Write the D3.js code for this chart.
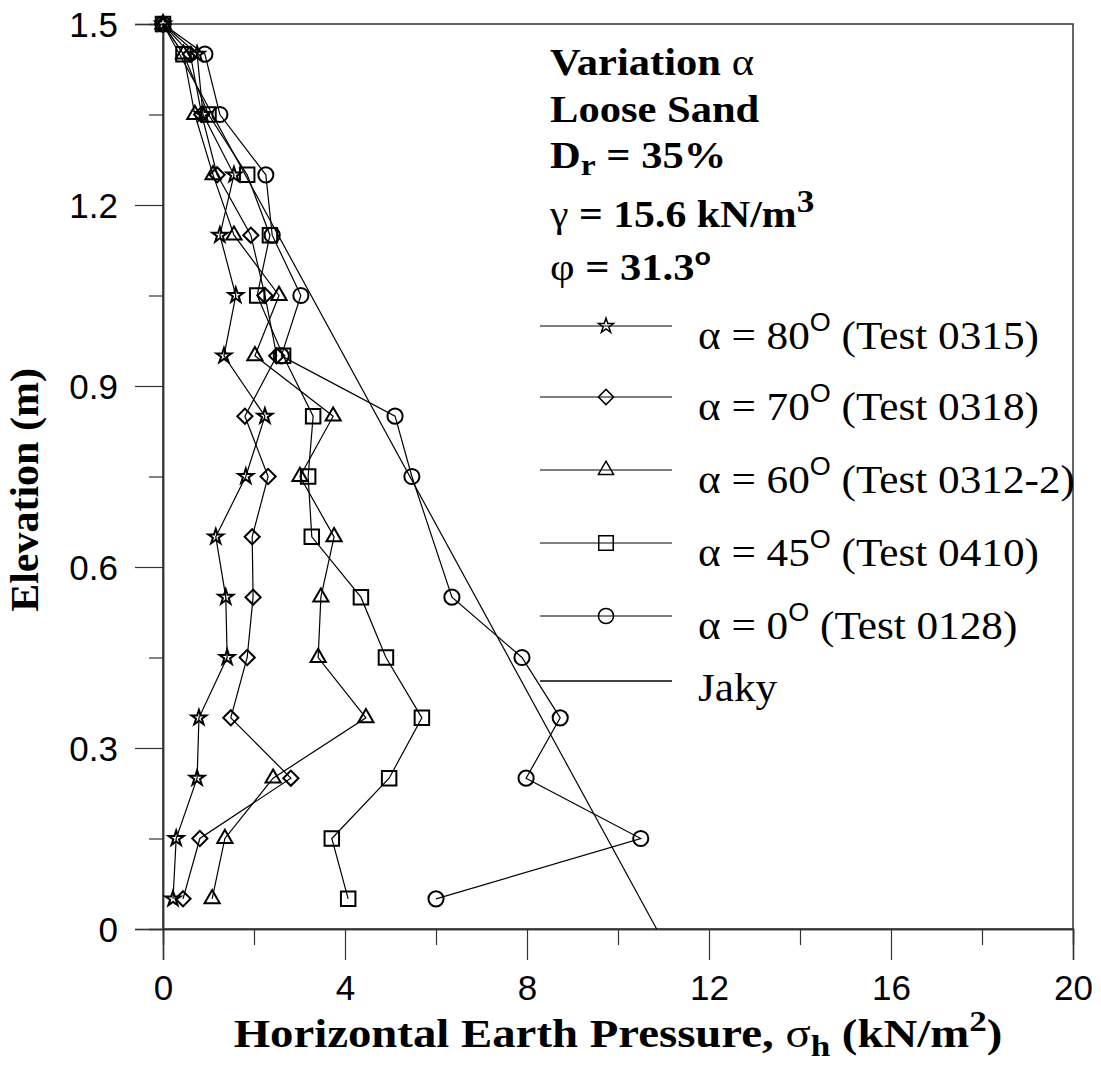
<!DOCTYPE html>
<html>
<head>
<meta charset="utf-8">
<script src="https://cdn.jsdelivr.net/npm/d3@7"></script>
<style>
  body { margin: 0; background: #fff; }
  svg { display: block; }
</style>
</head>
<body>
<div id="chart"></div>
<script>
/* DATA */
var elevations = [1.5, 1.45, 1.35, 1.25, 1.15, 1.05, 0.95, 0.85, 0.75, 0.65, 0.55, 0.45, 0.35, 0.25, 0.15, 0.05];
var alpha80 = [0, 0.75, 0.88, 1.56, 1.25, 1.6, 1.34, 2.24, 1.82, 1.16, 1.38, 1.41, 0.79, 0.75, 0.29, 0.22];
var alpha70 = [0, 0.6, 0.85, 1.19, 1.93, 2.24, 2.5, 1.8, 2.31, 1.96, 1.98, 1.85, 1.49, 2.81, 0.81, 0.44];
var alpha60 = [0, 0.45, 0.7, 1.1, 1.56, 2.55, 2.02, 3.74, 3.01, 3.76, 3.47, 3.41, 4.46, 2.42, 1.36, 1.08];
var alpha45 = [0, 0.45, 1.0, 1.85, 2.35, 2.07, 2.64, 3.3, 3.19, 3.27, 4.35, 4.9, 5.69, 4.97, 3.71, 4.07];
var alpha0  = [0, 0.92, 1.25, 2.26, 2.4, 3.03, 2.6, 5.1, 5.47, null, 6.35, 7.89, 8.73, 7.98, 10.5, 6.0];
var jakyX = [0, 10.85];
var jakyY = [1.5, 0];

var seriesNames = ['80', '70', '60', '45', '0'];
var seriesTests = ['(Test 0315)', '(Test 0318)', '(Test 0312-2)', '(Test 0410)', '(Test 0128)'];
var seriesValues = [alpha80, alpha70, alpha60, alpha45, alpha0];
var seriesMarks = ['star', 'diamond', 'triangle', 'square', 'circle'];

var xTicks = [0, 4, 8, 12, 16, 20];
var xMinor = [2, 6, 10, 14, 18];
var yTicks = [0, 0.3, 0.6, 0.9, 1.2, 1.5];
var yMinor = [0.15, 0.45, 0.75, 1.05, 1.35];

/* LAYOUT */
var width = 1101, height = 1074;
var plotLeft = 163, plotRight = 1073, plotTop = 24, plotBottom = 929;
var serif = '"Liberation Serif", "Times New Roman", serif';
var sans = '"Liberation Sans", Arial, sans-serif';

var svg = d3.select('#chart').append('svg')
  .attr('width', width).attr('height', height);

var x = d3.scaleLinear().domain([0, 20]).range([plotLeft, plotRight]);
var y = d3.scaleLinear().domain([0, 1.5]).range([plotBottom, plotTop]);

/* a text that is a bit wider than the font, like the original */
function wideText(parent, tx, ty, sx) {
  return parent.append('g')
    .attr('transform', 'translate(' + tx + ',' + ty + ') scale(' + sx + ',1)')
    .append('text');
}

/* FRAME */
svg.append('rect')
  .attr('x', plotLeft).attr('y', plotTop)
  .attr('width', plotRight - plotLeft).attr('height', plotBottom - plotTop)
  .attr('fill', 'none').attr('stroke', '#333').attr('stroke-width', 1.5);

/* AXES */
var xAxis = svg.append('g').attr('transform', 'translate(0,' + plotBottom + ')')
  .call(d3.axisBottom(x).tickValues(xTicks).tickSize(31).tickFormat(d3.format('d')));
svg.append('g').attr('transform', 'translate(0,' + plotBottom + ')')
  .call(d3.axisBottom(x).tickValues(xMinor).tickSize(16).tickFormat(''));
var yAxis = svg.append('g').attr('transform', 'translate(' + plotLeft + ',0)')
  .call(d3.axisLeft(y).tickValues(yTicks).tickSize(28).tickFormat(function(d){ return d === 0 ? '0' : d3.format('.1f')(d); }));
svg.append('g').attr('transform', 'translate(' + plotLeft + ',0)')
  .call(d3.axisLeft(y).tickValues(yMinor).tickSize(14).tickFormat(''));

svg.selectAll('.domain').attr('stroke', '#333').attr('stroke-width', 1.5);
svg.selectAll('.tick line').attr('stroke', '#333').attr('stroke-width', 1.2);
xAxis.selectAll('.tick text')
  .attr('font-family', sans).attr('font-size', 35).attr('fill', '#000')
  .attr('y', 46).attr('dy', '0.71em');
yAxis.selectAll('.tick text')
  .attr('font-family', sans).attr('font-size', 35).attr('fill', '#000')
  .attr('x', -45).attr('dy', '0.36em');

/* AXIS TITLES */
var xTitle = wideText(svg, (plotLeft + plotRight) / 2, 1047, 1.17)
  .attr('text-anchor', 'middle')
  .attr('font-family', serif).attr('font-weight', 'bold').attr('font-size', 40);
xTitle.append('tspan').text('Horizontal Earth Pressure, ');
xTitle.append('tspan').attr('font-weight', 'normal').text('σ');
xTitle.append('tspan').attr('font-size', 30).attr('dy', 9).text('h');
xTitle.append('tspan').attr('dy', -9).text(' (kN/m');
xTitle.append('tspan').attr('font-size', 30).attr('dy', -16).text('2');
xTitle.append('tspan').attr('dy', 16).text(')');

svg.append('g')
  .attr('transform', 'translate(38,490) rotate(-90) scale(1.05,1)')
  .append('text')
  .attr('text-anchor', 'middle')
  .attr('font-family', serif).attr('font-weight', 'bold').attr('font-size', 40)
  .text('Elevation (m)');

/* MARKERS */
function markerPath(kind) {
  var s = d3.symbol();
  if (kind === 'star') return s.type(d3.symbolStar).size(70)();
  if (kind === 'diamond') return s.type(d3.symbolSquare).size(115)();
  if (kind === 'triangle') return s.type(d3.symbolTriangle).size(100)();
  if (kind === 'square') return s.type(d3.symbolSquare).size(210)();
  return s.type(d3.symbolCircle).size(180)();
}
function markerRotate(kind) { return kind === 'diamond' ? ' rotate(45)' : ''; }

var line = d3.line().x(function(d){ return x(d[0]); }).y(function(d){ return y(d[1]); });
var plot = svg.append('g');

/* JAKY LINE */
plot.append('path')
  .datum(jakyX.map(function(v, i){ return [v, jakyY[i]]; }))
  .attr('d', line).attr('fill', 'none').attr('stroke', '#000').attr('stroke-width', 1.2);

/* MEASURED SERIES */
seriesValues.forEach(function(vals, i) {
  var pts = [];
  for (var k = 0; k < elevations.length; k++) {
    if (vals[k] !== null) pts.push([vals[k], elevations[k]]);
  }
  plot.append('path').datum(pts).attr('d', line)
    .attr('fill', 'none').attr('stroke', '#000').attr('stroke-width', 1.2);
  plot.selectAll('path.m' + i).data(pts).enter().append('path')
    .attr('class', 'm' + i)
    .attr('d', markerPath(seriesMarks[i]))
    .attr('transform', function(d){ return 'translate(' + x(d[0]) + ',' + y(d[1]) + ')' + markerRotate(seriesMarks[i]); })
    .attr('fill', 'none').attr('stroke', '#000').attr('stroke-width', 2);
});

/* INFO BLOCK */
var info = svg.append('g').attr('font-family', serif).attr('font-weight', 'bold').attr('font-size', 38);
var t1 = wideText(info, 550, 75, 1.12);
t1.append('tspan').text('Variation ');
t1.append('tspan').attr('font-weight', 'normal').text('α');
wideText(info, 550, 122, 1.12).text('Loose Sand');
var t3 = wideText(info, 550, 168, 1.12);
t3.append('tspan').text('D');
t3.append('tspan').attr('font-size', 30).attr('dy', 7).text('r');
t3.append('tspan').attr('dy', -7).text(' = 35%');
var t4 = wideText(info, 550, 227, 1.1);
t4.append('tspan').attr('font-weight', 'normal').text('γ');
t4.append('tspan').text(' = 15.6 kN/m');
t4.append('tspan').attr('font-size', 32).attr('dy', -15).text('3');
var t5 = wideText(info, 550, 280, 1.12);
t5.append('tspan').attr('font-weight', 'normal').text('φ');
t5.append('tspan').text(' = 31.3');
t5.append('tspan').attr('font-family', sans).attr('font-size', 24).attr('dy', -15).text('o');

/* LEGEND */
var legendY = [326, 397, 470, 543, 616];
var legend = svg.append('g');
seriesNames.forEach(function(name, i) {
  var ly = legendY[i];
  legend.append('line').attr('x1', 540).attr('x2', 672).attr('y1', ly).attr('y2', ly)
    .attr('stroke', '#808080').attr('stroke-width', 2);
  legend.append('path').attr('d', markerPath(seriesMarks[i]))
    .attr('transform', 'translate(606,' + ly + ')' + markerRotate(seriesMarks[i]))
    .attr('fill', 'none').attr('stroke', '#000').attr('stroke-width', 1.5);
  var t = wideText(legend, 698, ly + 23, 1.08)
    .attr('font-family', serif).attr('font-size', 40);
  t.append('tspan').text('α = ' + name);
  t.append('tspan').attr('font-family', sans).attr('font-size', 25).attr('dy', -18).text('O');
  t.append('tspan').attr('dy', 18).text(' ' + seriesTests[i]);
});
legend.append('line').attr('x1', 540).attr('x2', 672).attr('y1', 681).attr('y2', 681)
  .attr('stroke', '#000').attr('stroke-width', 1.5);
wideText(legend, 698, 701, 1.08)
  .attr('font-family', serif).attr('font-size', 40).text('Jaky');
</script>
</body>
</html>
